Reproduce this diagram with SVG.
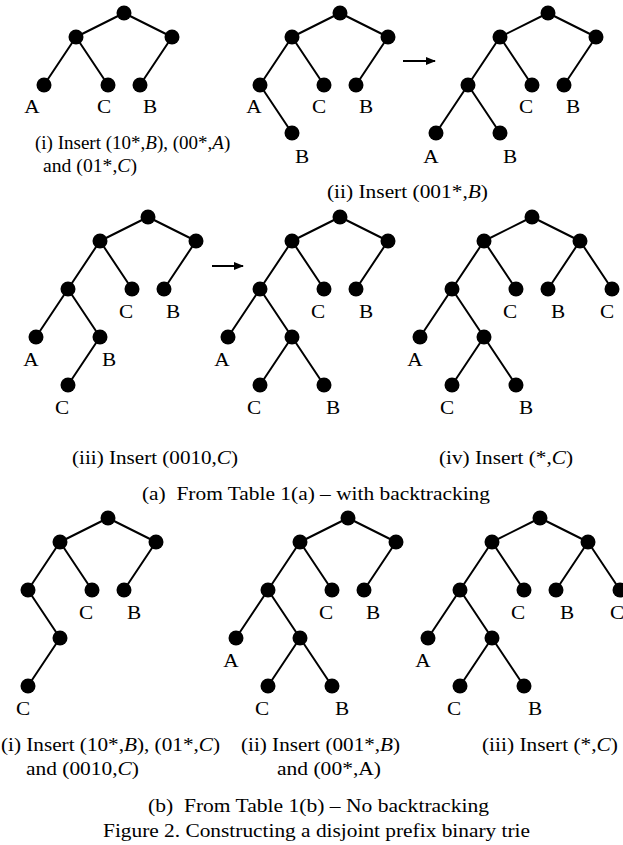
<svg xmlns="http://www.w3.org/2000/svg" width="623" height="845" viewBox="0 0 623 845">
<style>
.e{stroke:#000;stroke-width:2;fill:none}
circle{fill:#000}
text{font-family:"Liberation Serif","Times New Roman",serif;font-size:19px;fill:#000}
.l{text-anchor:middle}
.i{font-style:italic}
</style>
<defs>
<marker id="ah" markerWidth="10" markerHeight="8" refX="9" refY="4" orient="auto" markerUnits="userSpaceOnUse">
<path d="M0,0 L10,4 L0,8 Z" fill="#000"/>
</marker>
</defs>
<rect width="623" height="845" fill="#fff"/>
<g id="connectors">
<path class="e" d="M124,13 L76,37 M124,13 L172,37 M76,37 L44,85 M76,37 L108,85 M172,37 L140,85"/>
<path class="e" d="M340,13 L292,37 M340,13 L388,37 M292,37 L260,85 M292,37 L324,85 M388,37 L356,85 M260,85 L292,133"/>
<path class="e" d="M548,13 L500,37 M548,13 L596,37 M500,37 L468,85 M500,37 L532,85 M596,37 L564,85 M468,85 L436,133 M468,85 L500,133"/>
<path class="e" d="M148,217 L100,241 M148,217 L196,241 M100,241 L68,289 M100,241 L132,289 M196,241 L164,289 M68,289 L36,337 M68,289 L100,337 M100,337 L68,385"/>
<path class="e" d="M340,217 L292,241 M340,217 L388,241 M292,241 L260,289 M292,241 L324,289 M388,241 L356,289 M260,289 L228,337 M260,289 L292,337 M292,337 L260,385 M292,337 L324,385"/>
<path class="e" d="M532,217 L484,241 M532,217 L580,241 M484,241 L452,289 M484,241 L516,289 M580,241 L548,289 M580,241 L612,289 M452,289 L420,337 M452,289 L484,337 M484,337 L452,385 M484,337 L516,385"/>
<path class="e" d="M108,518 L60,542 M108,518 L156,542 M60,542 L28,590 M60,542 L92,590 M156,542 L124,590 M28,590 L60,638 M60,638 L28,686"/>
<path class="e" d="M348,518 L300,542 M348,518 L396,542 M300,542 L268,590 M300,542 L332,590 M396,542 L364,590 M268,590 L236,638 M268,590 L300,638 M300,638 L268,686 M300,638 L332,686"/>
<path class="e" d="M540,518 L492,542 M540,518 L588,542 M492,542 L460,590 M492,542 L524,590 M588,542 L556,590 M588,542 L620,590 M460,590 L428,638 M460,590 L492,638 M492,638 L460,686 M492,638 L524,686"/>
<line class="e" x1="403" y1="61" x2="435" y2="61" marker-end="url(#ah)"/>
<line class="e" x1="212" y1="266" x2="243" y2="266" marker-end="url(#ah)"/>
</g>

<!-- Tree 1 -->
<g id="t1-root"><circle cx="124" cy="13" r="7.5"/></g>
<g id="t1-l"><circle cx="76" cy="37" r="7.5"/></g>
<g id="t1-r"><circle cx="172" cy="37" r="7.5"/></g>
<g id="t1-ll"><circle cx="44" cy="85" r="7.5"/><text class="l" x="32" y="113" textLength="15.4" lengthAdjust="spacingAndGlyphs">A</text></g>
<g id="t1-lr"><circle cx="108" cy="85" r="7.5"/><text class="l" x="104" y="113" textLength="14.2" lengthAdjust="spacingAndGlyphs">C</text></g>
<g id="t1-rl"><circle cx="140" cy="85" r="7.5"/><text class="l" x="150" y="113" textLength="14.2" lengthAdjust="spacingAndGlyphs">B</text></g>

<!-- Tree 2 -->
<g id="t2-root"><circle cx="340" cy="13" r="7.5"/></g>
<g id="t2-l"><circle cx="292" cy="37" r="7.5"/></g>
<g id="t2-r"><circle cx="388" cy="37" r="7.5"/></g>
<g id="t2-ll"><circle cx="260" cy="85" r="7.5"/><text class="l" x="254" y="113" textLength="15.4" lengthAdjust="spacingAndGlyphs">A</text></g>
<g id="t2-lr"><circle cx="324" cy="85" r="7.5"/><text class="l" x="319" y="113" textLength="14.2" lengthAdjust="spacingAndGlyphs">C</text></g>
<g id="t2-rl"><circle cx="356" cy="85" r="7.5"/><text class="l" x="366" y="113" textLength="14.2" lengthAdjust="spacingAndGlyphs">B</text></g>
<g id="t2-llr"><circle cx="292" cy="133" r="7.5"/><text class="l" x="302" y="163" textLength="14.2" lengthAdjust="spacingAndGlyphs">B</text></g>

<!-- Tree 3 -->
<g id="t3-root"><circle cx="548" cy="13" r="7.5"/></g>
<g id="t3-l"><circle cx="500" cy="37" r="7.5"/></g>
<g id="t3-r"><circle cx="596" cy="37" r="7.5"/></g>
<g id="t3-ll"><circle cx="468" cy="85" r="7.5"/></g>
<g id="t3-lr"><circle cx="532" cy="85" r="7.5"/><text class="l" x="526" y="113" textLength="14.2" lengthAdjust="spacingAndGlyphs">C</text></g>
<g id="t3-rl"><circle cx="564" cy="85" r="7.5"/><text class="l" x="573" y="113" textLength="14.2" lengthAdjust="spacingAndGlyphs">B</text></g>
<g id="t3-lll"><circle cx="436" cy="133" r="7.5"/><text class="l" x="431" y="163" textLength="15.4" lengthAdjust="spacingAndGlyphs">A</text></g>
<g id="t3-llr"><circle cx="500" cy="133" r="7.5"/><text class="l" x="510" y="163" textLength="14.2" lengthAdjust="spacingAndGlyphs">B</text></g>

<!-- Tree 4 -->
<g id="t4-root"><circle cx="148" cy="217" r="7.5"/></g>
<g id="t4-l"><circle cx="100" cy="241" r="7.5"/></g>
<g id="t4-r"><circle cx="196" cy="241" r="7.5"/></g>
<g id="t4-ll"><circle cx="68" cy="289" r="7.5"/></g>
<g id="t4-lr"><circle cx="132" cy="289" r="7.5"/><text class="l" x="126" y="318" textLength="14.2" lengthAdjust="spacingAndGlyphs">C</text></g>
<g id="t4-rl"><circle cx="164" cy="289" r="7.5"/><text class="l" x="173" y="318" textLength="14.2" lengthAdjust="spacingAndGlyphs">B</text></g>
<g id="t4-lll"><circle cx="36" cy="337" r="7.5"/><text class="l" x="31" y="366" textLength="15.4" lengthAdjust="spacingAndGlyphs">A</text></g>
<g id="t4-llr"><circle cx="100" cy="337" r="7.5"/><text class="l" x="109" y="366" textLength="14.2" lengthAdjust="spacingAndGlyphs">B</text></g>
<g id="t4-llrl"><circle cx="68" cy="385" r="7.5"/><text class="l" x="62" y="414" textLength="14.2" lengthAdjust="spacingAndGlyphs">C</text></g>

<!-- Tree 5 -->
<g id="t5-root"><circle cx="340" cy="217" r="7.5"/></g>
<g id="t5-l"><circle cx="292" cy="241" r="7.5"/></g>
<g id="t5-r"><circle cx="388" cy="241" r="7.5"/></g>
<g id="t5-ll"><circle cx="260" cy="289" r="7.5"/></g>
<g id="t5-lr"><circle cx="324" cy="289" r="7.5"/><text class="l" x="318" y="318" textLength="14.2" lengthAdjust="spacingAndGlyphs">C</text></g>
<g id="t5-rl"><circle cx="356" cy="289" r="7.5"/><text class="l" x="366" y="318" textLength="14.2" lengthAdjust="spacingAndGlyphs">B</text></g>
<g id="t5-lll"><circle cx="228" cy="337" r="7.5"/><text class="l" x="222" y="366" textLength="15.4" lengthAdjust="spacingAndGlyphs">A</text></g>
<g id="t5-llr"><circle cx="292" cy="337" r="7.5"/></g>
<g id="t5-llrl"><circle cx="260" cy="385" r="7.5"/><text class="l" x="254" y="414" textLength="14.2" lengthAdjust="spacingAndGlyphs">C</text></g>
<g id="t5-llrr"><circle cx="324" cy="385" r="7.5"/><text class="l" x="333" y="414" textLength="14.2" lengthAdjust="spacingAndGlyphs">B</text></g>

<!-- Tree 6 -->
<g id="t6-root"><circle cx="532" cy="217" r="7.5"/></g>
<g id="t6-l"><circle cx="484" cy="241" r="7.5"/></g>
<g id="t6-r"><circle cx="580" cy="241" r="7.5"/></g>
<g id="t6-ll"><circle cx="452" cy="289" r="7.5"/></g>
<g id="t6-lr"><circle cx="516" cy="289" r="7.5"/><text class="l" x="510" y="318" textLength="14.2" lengthAdjust="spacingAndGlyphs">C</text></g>
<g id="t6-rl"><circle cx="548" cy="289" r="7.5"/><text class="l" x="558" y="318" textLength="14.2" lengthAdjust="spacingAndGlyphs">B</text></g>
<g id="t6-rr"><circle cx="612" cy="289" r="7.5"/><text class="l" x="607" y="318" textLength="14.2" lengthAdjust="spacingAndGlyphs">C</text></g>
<g id="t6-lll"><circle cx="420" cy="337" r="7.5"/><text class="l" x="415" y="366" textLength="15.4" lengthAdjust="spacingAndGlyphs">A</text></g>
<g id="t6-llr"><circle cx="484" cy="337" r="7.5"/></g>
<g id="t6-llrl"><circle cx="452" cy="385" r="7.5"/><text class="l" x="447" y="414" textLength="14.2" lengthAdjust="spacingAndGlyphs">C</text></g>
<g id="t6-llrr"><circle cx="516" cy="385" r="7.5"/><text class="l" x="526" y="414" textLength="14.2" lengthAdjust="spacingAndGlyphs">B</text></g>

<!-- Tree 7 -->
<g id="t7-root"><circle cx="108" cy="518" r="7.5"/></g>
<g id="t7-l"><circle cx="60" cy="542" r="7.5"/></g>
<g id="t7-r"><circle cx="156" cy="542" r="7.5"/></g>
<g id="t7-ll"><circle cx="28" cy="590" r="7.5"/></g>
<g id="t7-lr"><circle cx="92" cy="590" r="7.5"/><text class="l" x="86" y="619" textLength="14.2" lengthAdjust="spacingAndGlyphs">C</text></g>
<g id="t7-rl"><circle cx="124" cy="590" r="7.5"/><text class="l" x="134" y="619" textLength="14.2" lengthAdjust="spacingAndGlyphs">B</text></g>
<g id="t7-llr"><circle cx="60" cy="638" r="7.5"/></g>
<g id="t7-llrl"><circle cx="28" cy="686" r="7.5"/><text class="l" x="23" y="715" textLength="14.2" lengthAdjust="spacingAndGlyphs">C</text></g>

<!-- Tree 8 -->
<g id="t8-root"><circle cx="348" cy="518" r="7.5"/></g>
<g id="t8-l"><circle cx="300" cy="542" r="7.5"/></g>
<g id="t8-r"><circle cx="396" cy="542" r="7.5"/></g>
<g id="t8-ll"><circle cx="268" cy="590" r="7.5"/></g>
<g id="t8-lr"><circle cx="332" cy="590" r="7.5"/><text class="l" x="326" y="619" textLength="14.2" lengthAdjust="spacingAndGlyphs">C</text></g>
<g id="t8-rl"><circle cx="364" cy="590" r="7.5"/><text class="l" x="373" y="619" textLength="14.2" lengthAdjust="spacingAndGlyphs">B</text></g>
<g id="t8-lll"><circle cx="236" cy="638" r="7.5"/><text class="l" x="231" y="667" textLength="15.4" lengthAdjust="spacingAndGlyphs">A</text></g>
<g id="t8-llr"><circle cx="300" cy="638" r="7.5"/></g>
<g id="t8-llrl"><circle cx="268" cy="686" r="7.5"/><text class="l" x="262" y="715" textLength="14.2" lengthAdjust="spacingAndGlyphs">C</text></g>
<g id="t8-llrr"><circle cx="332" cy="686" r="7.5"/><text class="l" x="342" y="715" textLength="14.2" lengthAdjust="spacingAndGlyphs">B</text></g>

<!-- Tree 9 -->
<g id="t9-root"><circle cx="540" cy="518" r="7.5"/></g>
<g id="t9-l"><circle cx="492" cy="542" r="7.5"/></g>
<g id="t9-r"><circle cx="588" cy="542" r="7.5"/></g>
<g id="t9-ll"><circle cx="460" cy="590" r="7.5"/></g>
<g id="t9-lr"><circle cx="524" cy="590" r="7.5"/><text class="l" x="518" y="619" textLength="14.2" lengthAdjust="spacingAndGlyphs">C</text></g>
<g id="t9-rl"><circle cx="556" cy="590" r="7.5"/><text class="l" x="567" y="619" textLength="14.2" lengthAdjust="spacingAndGlyphs">B</text></g>
<g id="t9-rr"><circle cx="620" cy="590" r="7.5"/><text class="l" x="617" y="619" textLength="14.2" lengthAdjust="spacingAndGlyphs">C</text></g>
<g id="t9-lll"><circle cx="428" cy="638" r="7.5"/><text class="l" x="423" y="667" textLength="15.4" lengthAdjust="spacingAndGlyphs">A</text></g>
<g id="t9-llr"><circle cx="492" cy="638" r="7.5"/></g>
<g id="t9-llrl"><circle cx="460" cy="686" r="7.5"/><text class="l" x="454" y="715" textLength="14.2" lengthAdjust="spacingAndGlyphs">C</text></g>
<g id="t9-llrr"><circle cx="524" cy="686" r="7.5"/><text class="l" x="535" y="715" textLength="14.2" lengthAdjust="spacingAndGlyphs">B</text></g>

<g id="captions">
<text x="35" y="149">(i) Insert (10*,<tspan class="i">B</tspan>), (00*,<tspan class="i">A</tspan>)</text>
<text x="43" y="172" textLength="94" lengthAdjust="spacingAndGlyphs">and (01*,<tspan class="i">C</tspan>)</text>
<text x="327" y="198" textLength="161" lengthAdjust="spacingAndGlyphs">(ii) Insert (001*,<tspan class="i">B</tspan>)</text>
<text x="72" y="464" textLength="166" lengthAdjust="spacingAndGlyphs">(iii) Insert (0010,<tspan class="i">C</tspan>)</text>
<text x="439" y="464" textLength="134" lengthAdjust="spacingAndGlyphs">(iv) Insert (*,<tspan class="i">C</tspan>)</text>
<text x="142" y="500" textLength="348" lengthAdjust="spacingAndGlyphs">(a)&#160; From Table 1(a) – with backtracking</text>
<text x="1" y="751" textLength="219" lengthAdjust="spacingAndGlyphs">(i) Insert (10*,<tspan class="i">B</tspan>), (01*,<tspan class="i">C</tspan>)</text>
<text x="26" y="775" textLength="113" lengthAdjust="spacingAndGlyphs">and (0010,<tspan class="i">C</tspan>)</text>
<text x="241" y="751" textLength="159" lengthAdjust="spacingAndGlyphs">(ii) Insert (001*,<tspan class="i">B</tspan>)</text>
<text x="277" y="775" textLength="104" lengthAdjust="spacingAndGlyphs">and (00*,A)</text>
<text x="482" y="751" textLength="136" lengthAdjust="spacingAndGlyphs">(iii) Insert (*,<tspan class="i">C</tspan>)</text>
<text x="148" y="812" textLength="341" lengthAdjust="spacingAndGlyphs">(b)&#160; From Table 1(b) – No backtracking</text>
<text x="103" y="837" textLength="427" lengthAdjust="spacingAndGlyphs">Figure 2. Constructing a disjoint prefix binary trie</text>
</g>
</svg>
